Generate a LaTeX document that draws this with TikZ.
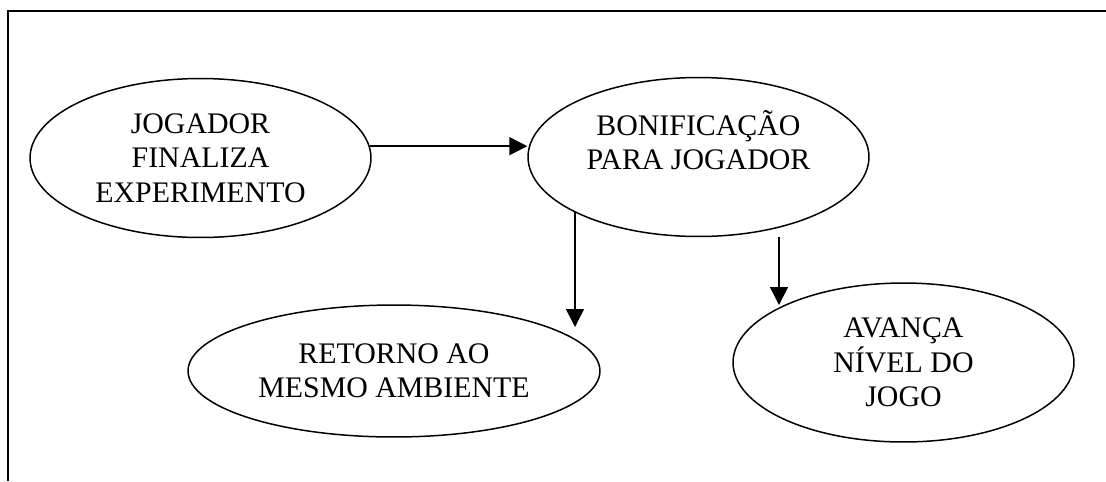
\documentclass[tikz,border=0pt]{standalone}
\usepackage{fontspec}
\setmainfont{Liberation Serif}
\usetikzlibrary{shapes.geometric,arrows.meta}

\begin{document}
\begin{tikzpicture}[x=0.02cm, y=-0.02cm]
      \useasboundingbox (0,0) rectangle (1106,481);
      \draw [line width=1.1pt] (8,481) -- (8,11) -- (1106,11);

      \begin{scope}[every node/.style={ellipse, draw, line width=0.85pt, inner sep=0pt, align=center, font=\fontsize{17}{19.5}\selectfont}]
        \node [minimum width=6.82cm, minimum height=3.18cm] (0) at (200.5,158) {JOGADOR\\FINALIZA\\EXPERIMENTO};
        \node [minimum width=6.82cm, minimum height=3.18cm] (1) at (698.5,157) {BONIFICAÇÃO\\PARA JOGADOR\\\mbox{}};
        \node [minimum width=8.24cm, minimum height=2.64cm] (2) at (394,371) {RETORNO AO\\MESMO AMBIENTE};
        \node [minimum width=6.82cm, minimum height=3.18cm] (3) at (903.5,362.5) {AVANÇA\\NÍVEL DO\\JOGO};
      \end{scope}

      \coordinate (t2) at (575,327);
      \coordinate (t3) at (779,305);

      \begin{scope}[->, >={Triangle[length=0.36cm, width=0.36cm]}, line width=0.85pt]
        \draw (0.4) -- (0.4 -| 1.west);
        \draw (t2 |- 1.204) -- (t2);
        \draw (t3 |- 1.south) -- (t3);
      \end{scope}
   \end{tikzpicture}
\end{document}
